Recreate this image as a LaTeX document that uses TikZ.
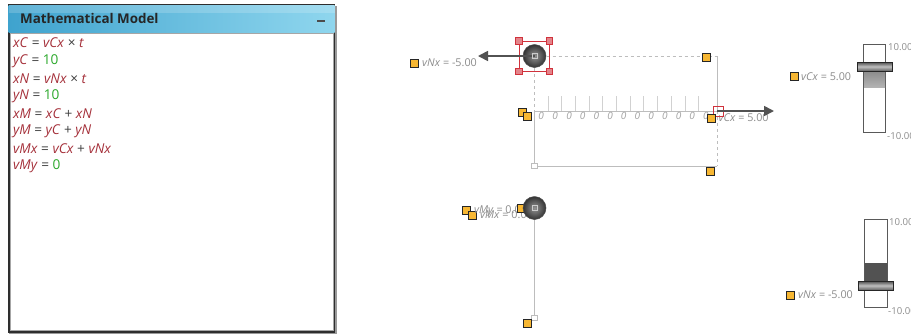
\documentclass[tikz,border=0pt]{standalone}
\usepackage{fontspec}
\setmainfont{Open Sans}
\usetikzlibrary{arrows.meta}
\definecolor{varred}{HTML}{A5303A}
\definecolor{numgreen}{HTML}{2BA82B}
\definecolor{opgray}{HTML}{404040}
\definecolor{labgray}{HTML}{8C8C8C}
\definecolor{lineg}{HTML}{BDBDBD}
\definecolor{handle}{HTML}{F7B733}
\definecolor{selred}{HTML}{D0323C}
\definecolor{barleft}{HTML}{3FA3CE}
\definecolor{barright}{HTML}{8FD6EE}
\newcommand{\Vr}[1]{\textcolor{varred}{\textit{#1}}}
\newcommand{\Nm}[1]{\textcolor{numgreen}{#1}}
\newcommand{\Op}[1]{\textcolor{opgray}{#1}}
\tikzset{
  eqn/.style={anchor=west,inner sep=0pt,font=\fontsize{13.6}{15}\selectfont},
  lab/.style={anchor=west,inner sep=0pt,text=labgray,font=\fontsize{10.8}{13}\selectfont},
  scalelab/.style={anchor=west,inner sep=0pt,text=labgray,font=\fontsize{9.6}{12}\selectfont},
  zero/.style={inner sep=0pt,text=labgray!80,font=\fontsize{10}{12}\selectfont\itshape},
  hnd/.style={draw=black!85,line width=1pt,fill=handle,minimum size=8pt,inner sep=0pt},
  selh/.style={draw=selred,line width=.6pt,fill=selred!60,minimum size=6.5pt,inner sep=0pt},
  ghost/.style={draw=lineg,line width=.6pt,fill=white,minimum size=5.5pt,inner sep=0pt},
  ball/.style={circle,draw=black!70,line width=.5pt,minimum size=23pt,inner sep=0pt,inner color=black!42,outer color=black!80},
  guide/.style={draw=lineg,line width=.9pt},
  guided/.style={draw=lineg,line width=.8pt,dash pattern=on 3pt off 3pt},
  vec/.style={draw=black!68,line width=1.7pt,-{Triangle[length=10pt,width=10pt]}},
  track/.style={draw=black!65,line width=.8pt,fill=white},
  thumb/.style={draw=black!85,line width=.9pt,top color=black!70,bottom color=black!62,middle color=black!25}
}
\begin{document}
\begin{tikzpicture}[x=1pt,y=-1pt]
\useasboundingbox (0,0) rectangle (911,333);
\fill[white] (0,0) rectangle (911,333);
% panel
\fill[black!40] (9,6) rectangle (337,334);
\fill[black!82] (7.5,4) rectangle (335,332.5);
\shade[left color=barleft,right color=barright] (8.5,5) rectangle (334.5,32);
\fill[white,opacity=.18] (8.5,5) rectangle (334.5,13);
\node[anchor=west,inner sep=0pt,text=black!85,font=\fontsize{13.4}{15}\selectfont\bfseries] (title) at (20,18.5) {Mathematical Model};
\node[fill=black!70,minimum width=8pt,minimum height=2.5pt,inner sep=0pt] (minbtn) at (320.5,21) {};
\draw[draw=black!35,line width=.9pt,fill=white] (10.5,33.5) rectangle (333.5,330.5);
% equations
\node[eqn] (e1) at (13,43) {\Vr{xC} \Op{=} \Vr{vCx} \Op{×} \Vr{t}};
\node[eqn] (e2) at (13,61) {\Vr{yC} \Op{=} \Nm{10}};
\node[eqn] (e3) at (13,79) {\Vr{xN} \Op{=} \Vr{vNx} \Op{×} \Vr{t}};
\node[eqn] (e4) at (13,96) {\Vr{yN} \Op{=} \Nm{10}};
\node[eqn] (e5) at (13,114) {\Vr{xM} \Op{=} \Vr{xC} \Op{+} \Vr{xN}};
\node[eqn] (e6) at (13,131) {\Vr{yM} \Op{=} \Vr{yC} \Op{+} \Vr{yN}};
\node[eqn] (e7) at (13,149) {\Vr{vMx} \Op{=} \Vr{vCx} \Op{+} \Vr{vNx}};
\node[eqn] (e8) at (13,166) {\Vr{vMy} \Op{=} \Nm{0}};
% scene anchors
\coordinate (tr) at (717,56);
\coordinate (tl) at (534.5,56);
\coordinate (al) at (534.5,111);
\coordinate (ar) at (717,111);
\coordinate (br) at (717,166);
\coordinate (tipN) at (478,56);
\coordinate (tipC) at (774,111);
\node[ghost] (gb) at (534.5,166) {};
\node[ghost] (gm) at (534.5,318) {};
% guides
\draw[guided] (tl) -- (tr);
\draw[guided] (tl) -- (al);
\draw[guide] (tr) -- (ar);
\draw[guided] (ar) -- (br);
\draw[guide] (al) -- (gb);
\draw[guide] (gb) -- (br);
\draw[guide] (al) -- (ar);
% ticks
\foreach \x in {547.9,561.6,575.3,589,602.7,616.4,630.1,643.8,657.5,671.2,684.9,698.6}{
  \draw[draw=black!18,line width=.7pt] (\x,111) -- (\x,96);
}
\foreach \x [count=\i] in {541,555,569,582.6,596.3,610,623.7,637.4,651.1,664.8,678.5,692.2,705.9}{
  \node[zero] (z\i) at (\x,116) {0};
}
% mass C
\node[lab] (lC) at (718.5,118) {\textit{vCx} = 5.00};
\node[minimum size=10pt,inner sep=0pt,draw=selred,line width=.8pt] (selC) at (718.5,111.5) {};
\draw[vec] (ar) -- (tipC);
% mass N
\draw[selred,line width=1pt] (519,41) rectangle (549.5,71.5);
\node[selh] (s1) at (519,41) {};
\node[selh] (s2) at (549.5,41) {};
\node[selh] (s3) at (519,71.5) {};
\node[selh] (s4) at (549.5,71.5) {};
\node[ball] (mC) at (534.5,56) {};
\draw[vec] (mC.center) -- (tipN);
\node[draw=white!80!black,line width=.6pt,minimum size=5pt,inner sep=0pt] (cC) at (534.5,56) {};
\node[hnd] (hN) at (414,63) {};
\node[lab] (lN) at (422,63) {\textit{vNx} = -5.00};
% handles top scene
\node[hnd] (h1) at (522.5,112) {};
\node[hnd] (h2) at (527.5,116.5) {};
\node[hnd] (h3) at (711.7,118) {};
\node[hnd] (h4) at (706,57) {};
\node[hnd] (h5) at (710.5,171) {};
% mass M
\draw[guide] (534.5,208) -- (gm);
\node[hnd] (h6) at (466.7,210.7) {};
\node[hnd] (h7) at (472.5,215) {};
\node[lab] (lMy) at (474,211) {\textit{vMy} = 0.00};
\node[lab] (lMx) at (480,215) {\textit{vMx} = 0.00};
\node[hnd] (h8) at (521.5,208) {};
\node[ball] (mM) at (534.5,208) {};
\node[draw=white!80!black,line width=.6pt,minimum size=5pt,inner sep=0pt] (cM) at (534.5,208) {};
\node[hnd] (h9) at (527.5,323) {};
% slider 1
\draw[track] (863.5,44) rectangle (885.5,132.5);
\shade[top color=black!50,bottom color=black!30] (864,66) rectangle (885,87);
\draw[thumb] (857.5,62) rectangle (892,71);
\node[scalelab] (s1top) at (888,47) {10.00};
\node[scalelab] (s1bot) at (887,136) {-10.00};
\node[hnd] (hC) at (794,76.5) {};
\node[lab] (lvC) at (801,76.5) {\textit{vCx} = 5.00};
% slider 2
\draw[track] (864.5,219) rectangle (887,307);
\fill[black!68] (865,262.5) rectangle (886.5,285);
\draw[thumb] (858.5,281) rectangle (893.5,290);
\node[scalelab] (s2top) at (889,222) {10.00};
\node[scalelab] (s2bot) at (888,311) {-10.00};
\node[hnd] (hNx) at (790.5,295) {};
\node[lab] (lvN) at (798,295) {\textit{vNx} = -5.00};
\end{tikzpicture}
\end{document}
